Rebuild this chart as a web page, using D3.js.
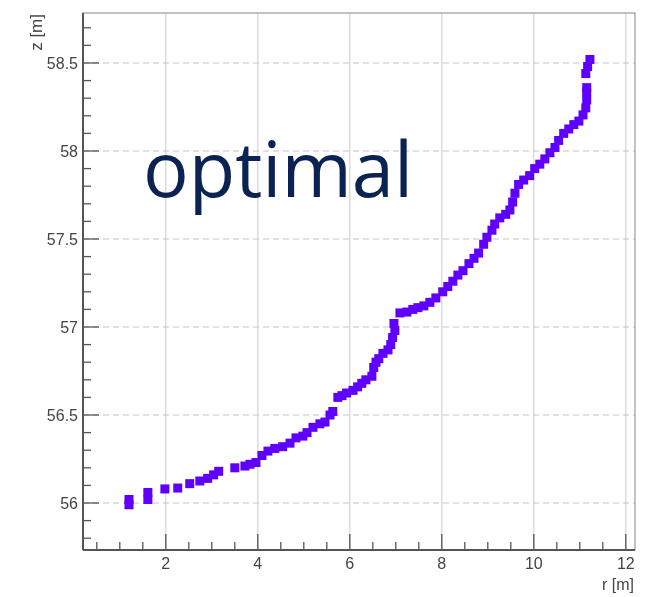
<!DOCTYPE html>
<html>
<head>
<meta charset="utf-8">
<script src="https://cdn.jsdelivr.net/npm/d3@7"></script>
<style>
  body { margin: 0; background: #fff; }
</style>
</head>
<body>
<div id="chart-area"></div>
<script>
var width = 650;
var height = 597;

// r [m] of each point
var rValues = [1.20, 1.20, 1.61, 1.61, 1.98, 2.26, 2.52, 2.74, 2.91, 3.04,
    3.15, 3.50, 3.72, 3.83, 3.96, 4.09, 4.22, 4.37, 4.54, 4.70,
    4.83, 4.98, 5.07, 5.20, 5.35, 5.46, 5.57, 5.63, 5.74, 5.83,
    5.93, 6.07, 6.17, 6.26, 6.35, 6.48, 6.52, 6.57, 6.63, 6.72,
    6.83, 6.89, 6.93, 6.98, 6.96, 7.09, 7.24, 7.37, 7.48, 7.61,
    7.74, 7.87, 8.02, 8.13, 8.24, 8.35, 8.46, 8.59, 8.70, 8.80,
    8.91, 8.98, 9.09, 9.15, 9.26, 9.39, 9.48, 9.54, 9.59, 9.67,
    9.78, 9.91, 10.02, 10.13, 10.24, 10.35, 10.46, 10.54, 10.65, 10.76,
    10.87, 10.98, 11.07, 11.13, 11.15, 11.15, 11.15, 11.13, 11.17, 11.22];
// z [m] of each point
var zValues = [55.99, 56.02, 56.02, 56.06, 56.08, 56.085, 56.11, 56.125, 56.14, 56.16,
    56.18, 56.20, 56.21, 56.22, 56.23, 56.27, 56.295, 56.31, 56.32, 56.34,
    56.37, 56.38, 56.40, 56.43, 56.45, 56.46, 56.50, 56.52, 56.60, 56.61,
    56.625, 56.64, 56.66, 56.68, 56.70, 56.72, 56.77, 56.80, 56.82, 56.85,
    56.87, 56.90, 56.94, 56.98, 57.02, 57.08, 57.085, 57.10, 57.11, 57.12,
    57.14, 57.165, 57.20, 57.23, 57.26, 57.295, 57.32, 57.36, 57.39, 57.42,
    57.47, 57.51, 57.55, 57.585, 57.62, 57.64, 57.665, 57.71, 57.76, 57.81,
    57.835, 57.86, 57.90, 57.925, 57.955, 57.99, 58.02, 58.06, 58.10, 58.125,
    58.15, 58.17, 58.205, 58.245, 58.29, 58.335, 58.36, 58.44, 58.48, 58.52];

var xTicks = [2, 4, 6, 8, 10, 12];
var yTicks = [56, 56.5, 57, 57.5, 58, 58.5];
var yTickLabels = ["56", "56.5", "57", "57.5", "58", "58.5"];

var mLeft = 83, mRight = 635, mTop = 13, mBottom = 550;
var axisFont = "'Liberation Sans', Arial, sans-serif";

var x = d3.scaleLinear().domain([0.2, 12.2]).range([mLeft, mRight]);
var y = d3.scaleLinear().domain([55.733, 58.784]).range([mBottom, mTop]);

var svg = d3.select("#chart-area").append("svg")
    .attr("width", width)
    .attr("height", height);

var defs = svg.append("defs");
defs.append("filter").attr("id", "soft")
    .append("feGaussianBlur").attr("stdDeviation", 0.7);
defs.append("filter").attr("id", "softText")
    .append("feGaussianBlur").attr("stdDeviation", 0.35);

// grid
svg.append("g").selectAll("line").data(xTicks).enter().append("line")
    .attr("x1", d => x(d)).attr("x2", d => x(d))
    .attr("y1", mTop).attr("y2", mBottom)
    .attr("stroke", "#d4d4d4").attr("stroke-width", 1.2);

svg.append("g").selectAll("line").data(yTicks).enter().append("line")
    .attr("x1", mLeft).attr("x2", mRight)
    .attr("y1", d => y(d)).attr("y2", d => y(d))
    .attr("stroke", "#c4c4c4").attr("stroke-width", 1.2)
    .attr("stroke-dasharray", "6,4");

// frame
svg.append("rect")
    .attr("x", mLeft).attr("y", mTop)
    .attr("width", mRight - mLeft).attr("height", mBottom - mTop)
    .attr("fill", "none").attr("stroke", "#9a9a9a").attr("stroke-width", 1.2);

// axes with ticks inside the frame
var xMinor = d3.range(0.5, 12.01, 0.5);
var yMinor = d3.range(55.8, 58.79, 0.1);

var xAxis = svg.append("g").attr("transform", "translate(0," + mBottom + ")");
xAxis.append("line").attr("x1", mLeft).attr("x2", mRight)
    .attr("stroke", "#555").attr("stroke-width", 2);
xAxis.selectAll(".minor").data(xMinor).enter().append("line")
    .attr("x1", d => x(d)).attr("x2", d => x(d))
    .attr("y1", 0).attr("y2", d => (Math.abs(d % 2) < 0.01 ? -16 : -8))
    .attr("stroke", "#555").attr("stroke-width", 1.3);
xAxis.selectAll("text").data(xTicks).enter().append("text")
    .attr("x", d => x(d)).attr("y", 19)
    .attr("text-anchor", "middle")
    .style("font-family", axisFont).style("font-size", "16px")
    .attr("fill", "#444").attr("filter", "url(#softText)")
    .text(d => d);
svg.append("text")
    .attr("x", mRight - 1).attr("y", 590)
    .attr("text-anchor", "end")
    .style("font-family", axisFont).style("font-size", "16px")
    .attr("fill", "#444").attr("filter", "url(#softText)")
    .text("r [m]");

var yAxis = svg.append("g").attr("transform", "translate(" + mLeft + ",0)");
yAxis.append("line").attr("y1", mTop).attr("y2", mBottom)
    .attr("stroke", "#555").attr("stroke-width", 2);
yAxis.selectAll(".minor").data(yMinor).enter().append("line")
    .attr("y1", d => y(d)).attr("y2", d => y(d))
    .attr("x1", 0).attr("x2", d => (Math.abs(Math.round(d * 10) % 5) === 0 ? 16 : 8))
    .attr("stroke", "#555").attr("stroke-width", 1.3);
yAxis.selectAll("text").data(yTicks).enter().append("text")
    .attr("x", -5).attr("y", d => y(d) + 6)
    .attr("text-anchor", "end")
    .style("font-family", axisFont).style("font-size", "16px")
    .attr("fill", "#444").attr("filter", "url(#softText)")
    .text((d, i) => yTickLabels[i]);
svg.append("text")
    .attr("transform", "translate(42,14) rotate(-90)")
    .attr("text-anchor", "end")
    .style("font-family", axisFont).style("font-size", "17px")
    .attr("fill", "#444").attr("filter", "url(#softText)")
    .text("z [m]");

// points
var pts = rValues.map((r, i) => ({ r: r, z: zValues[i] }));
svg.append("g").attr("filter", "url(#soft)")
    .selectAll("rect").data(pts).enter().append("rect")
    .attr("x", d => x(d.r) - 4.5)
    .attr("y", d => y(d.z) - 4.5)
    .attr("width", 9).attr("height", 9)
    .attr("fill", "#5f00ff");

// label
svg.append("text")
    .attr("x", 143).attr("y", 197)
    .style("font-family", "'Open Sans', sans-serif")
    .style("font-size", "76px")
    .attr("fill", "#0b2352")
    .text("optimal");
</script>
</body>
</html>
